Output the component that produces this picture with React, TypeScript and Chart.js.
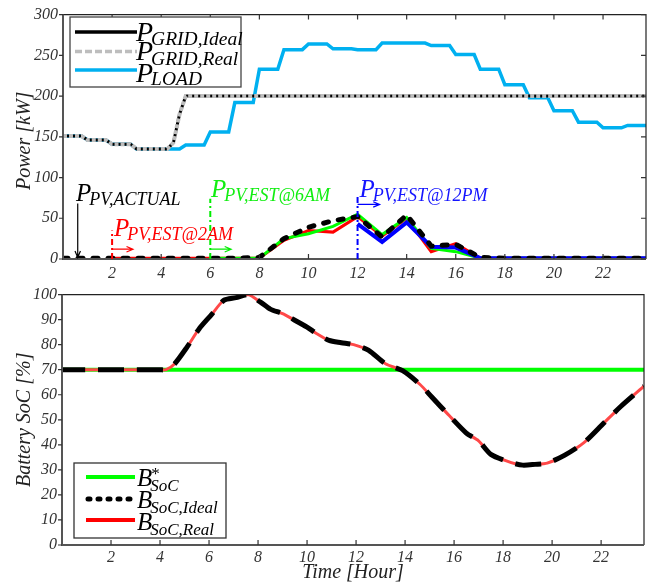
import React, { useEffect, useRef } from "react";
import { Chart, registerables } from "chart.js";

Chart.register(...registerables);

const SERIF = '"Liberation Serif", "Times New Roman", serif';

// ---------- Power chart data ----------
const hours = [0, 1, 2, 3, 4, 5, 6, 7, 8, 9, 10, 11, 12, 13, 14, 15, 16, 17, 18, 19, 20, 21, 22, 23];
const loadHourly = [151, 146, 141, 135, 135, 140, 156, 192, 233, 257, 264, 258, 257, 265, 265, 262, 251, 233, 214, 198, 182, 168, 161, 164];

const gridTimes = [0, 0.75, 1, 1.75, 2, 2.75, 3, 4.25, 4.5, 4.75, 5, 23.75];
const gridValues = [151, 151, 146, 146, 141, 141, 135, 135, 143, 178, 200, 200];

const pvTimes = [0, 1, 2, 3, 4, 5, 6, 7, 8, 9, 10, 11, 12, 13, 14, 15, 16, 17, 18, 19, 20, 21, 22, 23, 23.75];
const pvActual = [1, 1, 1, 1, 1, 1, 1, 1, 2, 25, 39, 47, 52, 27, 54, 16, 18, 2, 1, 1, 1, 1, 1, 1, 1];
const pvEst2am = [null, null, 1, 1, 1, 1, 1, 1, 1, 23, 35, 33, 52, 28, 50, 9, 19, 1, 1, 1, 1, 1, 1, 1, 1];
const pvEst6am = [null, null, null, null, null, null, 1, 1, 1, 25, 31, 40, 55, 30, 51, 13, 9, 1, 1, 1, 1, 1, 1, 1, 1];
const pvEst12pm = [null, null, null, null, null, null, null, null, null, null, null, null, 43, 21, 45, 15, 14, 1, 1, 1, 1, 1, 1, 1, 1];

// ---------- Battery chart data ----------
const socHours = [0, 1, 2, 3, 4, 4.25, 4.6, 5.1, 5.6, 6.1, 6.6, 7.1, 7.6, 8.1, 8.5, 9, 9.4, 10, 10.4, 10.9, 11.4, 11.9, 12.5, 13.2, 13.9, 14.6, 15.1, 15.8, 16.5, 17, 17.5, 18.3, 18.8, 19.3, 19.8, 20.5, 21.3, 22.1, 22.8, 23.75];
const socValues = [70, 70, 70, 70, 70, 70, 72.4, 79, 86.4, 92, 97.7, 98.8, 100, 97, 94.2, 92.4, 90.3, 87, 84.4, 81.7, 80.8, 80, 77.8, 72.4, 69.6, 64.2, 59, 51.7, 44.7, 41.6, 36.2, 33, 31.9, 32.2, 32.7, 35.8, 40.9, 48.6, 55.3, 63.4];
const socTargetHours = [0, 23.75];
const socTargetValues = [70, 70];

const xTicks = [2, 4, 6, 8, 10, 12, 14, 16, 18, 20, 22];
const powerTicks = [0, 50, 100, 150, 200, 250, 300];
const socTicks = [0, 10, 20, 30, 40, 50, 60, 70, 80, 90, 100];

const pairs = (xs: number[], ys: (number | null)[]) => xs.map((x, i) => ({ x, y: ys[i] }));
const stepPairs = (hs: number[], vs: number[]) => {
  const out: { x: number; y: number }[] = [];
  hs.forEach((h, i) => {
    out.push({ x: h, y: vs[i] });
    out.push({ x: h + 0.75, y: vs[i] });
  });
  return out;
};

const tickFont = { family: SERIF, style: "italic" as const, size: 16 };

function drawSub(
  ctx: CanvasRenderingContext2D,
  x: number,
  y: number,
  main: string,
  sub: string,
  color: string,
  mainSize: number,
  subSize: number,
  drop: number,
  sup?: string
) {
  ctx.fillStyle = color;
  ctx.textAlign = "left";
  ctx.textBaseline = "alphabetic";
  ctx.font = `italic ${mainSize}px ${SERIF}`;
  ctx.fillText(main, x, y);
  const w = ctx.measureText(main).width;
  ctx.font = `italic ${subSize}px ${SERIF}`;
  ctx.fillText(sub, x + w - 2, y + drop);
  if (sup) {
    ctx.font = `${subSize}px ${SERIF}`;
    ctx.fillText(sup, x + w - 1, y - mainSize * 0.28);
  }
}

function arrow(ctx: CanvasRenderingContext2D, x1: number, y1: number, x2: number, y2: number, color: string) {
  const ang = Math.atan2(y2 - y1, x2 - x1);
  const L = 7;
  ctx.strokeStyle = color;
  ctx.lineWidth = 1.2;
  ctx.beginPath();
  ctx.moveTo(x1, y1);
  ctx.lineTo(x2, y2);
  ctx.moveTo(x2 - L * Math.cos(ang - 0.4), y2 - L * Math.sin(ang - 0.4));
  ctx.lineTo(x2, y2);
  ctx.lineTo(x2 - L * Math.cos(ang + 0.4), y2 - L * Math.sin(ang + 0.4));
  ctx.stroke();
}

function drawFrame(chart: any, yValues: number[], topTicks: boolean, rightTicks: boolean) {
  const { ctx, chartArea: a, scales } = chart;
  ctx.save();
  ctx.lineCap = "butt";
  ctx.setLineDash([]);
  ctx.strokeStyle = "#222";
  ctx.lineWidth = 1.2;
  ctx.beginPath();
  ctx.moveTo(a.left, a.top);
  ctx.lineTo(a.right, a.top);
  ctx.lineTo(a.right, a.bottom);
  ctx.stroke();
  ctx.strokeStyle = "#555";
  ctx.lineWidth = 2;
  ctx.beginPath();
  ctx.moveTo(a.left, a.top);
  ctx.lineTo(a.left, a.bottom);
  ctx.lineTo(a.right, a.bottom);
  ctx.stroke();
  ctx.lineWidth = 1.2;
  ctx.strokeStyle = "#333";
  ctx.beginPath();
  xTicks.forEach((v) => {
    const px = scales.x.getPixelForValue(v);
    ctx.moveTo(px, a.bottom);
    ctx.lineTo(px, a.bottom - 5);
    if (topTicks) {
      ctx.moveTo(px, a.top);
      ctx.lineTo(px, a.top + 5);
    }
  });
  yValues.forEach((v) => {
    const py = scales.y.getPixelForValue(v);
    ctx.moveTo(a.left - 4, py);
    ctx.lineTo(a.left, py);
    if (rightTicks) {
      ctx.moveTo(a.right, py);
      ctx.lineTo(a.right - 5, py);
    }
  });
  ctx.stroke();
  ctx.restore();
}

const powerOverlay = {
  id: "powerOverlay",
  afterDraw(chart: any) {
    const { ctx, scales } = chart;
    const X = (v: number) => scales.x.getPixelForValue(v);
    const Y = (v: number) => scales.y.getPixelForValue(v);
    drawFrame(chart, powerTicks, true, true);
    ctx.save();

    // estimate start markers
    const markers = [
      { h: 2, top: 35, color: "#FF0000", arrowY: 12, arrowEnd: 2.85 },
      { h: 6, top: 74, color: "#00EE00", arrowY: 12, arrowEnd: 6.85 },
      { h: 12, top: 79, color: "#0000FF", arrowY: 67, arrowEnd: 12.9 },
    ];
    markers.forEach((m) => {
      ctx.strokeStyle = m.color;
      ctx.lineWidth = 2;
      ctx.setLineDash([6, 3, 2, 3]);
      ctx.beginPath();
      ctx.moveTo(X(m.h), Y(0));
      ctx.lineTo(X(m.h), Y(m.top));
      ctx.stroke();
      ctx.setLineDash([]);
      arrow(ctx, X(m.h), Y(m.arrowY), X(m.arrowEnd), Y(m.arrowY), m.color);
    });
    arrow(ctx, X(0.6), Y(68), X(0.6), Y(2), "#000");

    drawSub(ctx, X(0.53), Y(71.5), "P", "PV,ACTUAL", "#000", 25, 18, 4);
    drawSub(ctx, X(2.08), Y(28.5), "P", "PV,EST@2AM", "#FF0000", 25, 18, 4);
    drawSub(ctx, X(6.03), Y(76), "P", "PV,EST@6AM", "#11EE11", 25, 18, 4);
    drawSub(ctx, X(12.08), Y(76), "P", "PV,EST@12PM", "#1515FF", 25, 18, 4);

    // legend
    ctx.fillStyle = "#fff";
    ctx.fillRect(70, 17, 171, 70);
    ctx.strokeStyle = "#444";
    ctx.lineWidth = 1.3;
    ctx.strokeRect(70, 17, 171, 70);
    ctx.lineWidth = 3.5;
    ctx.strokeStyle = "#000";
    ctx.beginPath();
    ctx.moveTo(75, 32);
    ctx.lineTo(137, 32);
    ctx.stroke();
    ctx.strokeStyle = "#BDBDBD";
    ctx.setLineDash([7, 3]);
    ctx.beginPath();
    ctx.moveTo(75, 51.5);
    ctx.lineTo(137, 51.5);
    ctx.stroke();
    ctx.setLineDash([]);
    ctx.strokeStyle = "#00B0F0";
    ctx.beginPath();
    ctx.moveTo(75, 70);
    ctx.lineTo(137, 70);
    ctx.stroke();
    drawSub(ctx, 136, 40.5, "P", "GRID,Ideal", "#000", 28, 19.5, 4.5);
    drawSub(ctx, 136, 60, "P", "GRID,Real", "#000", 28, 19.5, 4.5);
    drawSub(ctx, 136, 81.5, "P", "LOAD", "#000", 28, 19.5, 3.5);

    // y-axis title
    ctx.translate(25, (chart.chartArea.top + chart.chartArea.bottom) / 2 + 4);
    ctx.rotate(-Math.PI / 2);
    ctx.font = `italic 20px ${SERIF}`;
    ctx.fillStyle = "#222";
    ctx.textAlign = "center";
    ctx.textBaseline = "middle";
    ctx.fillText("Power [kW]", 0, 0);
    ctx.restore();
  },
};

const socOverlay = {
  id: "socOverlay",
  afterDraw(chart: any) {
    const { ctx, chartArea: a } = chart;
    drawFrame(chart, socTicks, false, false);
    ctx.save();
    // legend
    ctx.fillStyle = "#fff";
    ctx.fillRect(74, 463 - 280, 152, 75);
    ctx.strokeStyle = "#333";
    ctx.lineWidth = 1.3;
    ctx.strokeRect(74, 463 - 280, 152, 75);
    ctx.lineWidth = 4;
    ctx.strokeStyle = "#00FF00";
    ctx.beginPath();
    ctx.moveTo(86, 477 - 280);
    ctx.lineTo(135, 477 - 280);
    ctx.stroke();
    ctx.strokeStyle = "#000";
    ctx.lineWidth = 5;
    ctx.lineCap = "round";
    ctx.setLineDash([2, 8]);
    ctx.beginPath();
    ctx.moveTo(88, 499 - 280);
    ctx.lineTo(135, 499 - 280);
    ctx.stroke();
    ctx.setLineDash([]);
    ctx.lineCap = "butt";
    ctx.lineWidth = 4;
    ctx.strokeStyle = "#FF0000";
    ctx.beginPath();
    ctx.moveTo(86, 520 - 280);
    ctx.lineTo(135, 520 - 280);
    ctx.stroke();
    drawSub(ctx, 137, 486 - 280, "B", "SoC", "#000", 25, 17, 4.5, "*");
    drawSub(ctx, 137, 508 - 280, "B", "SoC,Ideal", "#000", 25, 17, 4.5);
    drawSub(ctx, 137, 530 - 280, "B", "SoC,Real", "#000", 25, 17, 4.5);

    ctx.fillStyle = "#222";
    ctx.font = `italic 20px ${SERIF}`;
    ctx.textAlign = "center";
    ctx.textBaseline = "alphabetic";
    ctx.fillText("Time [Hour]", (a.left + a.right) / 2, 578 - 280);
    ctx.translate(25, (a.top + a.bottom) / 2);
    ctx.rotate(-Math.PI / 2);
    ctx.textBaseline = "middle";
    ctx.fillText("Battery SoC [%]", 0, 0);
    ctx.restore();
  },
};

function xScale(height: number, pad: number) {
  return {
    type: "linear" as const,
    min: 0,
    max: 23.75,
    grid: { display: false, drawTicks: false },
    border: { display: false },
    afterFit: (s: any) => {
      s.height = height;
    },
    afterBuildTicks: (s: any) => {
      s.ticks = xTicks.map((v) => ({ value: v }));
    },
    ticks: { font: tickFont, color: "#333", padding: pad, maxRotation: 0, autoSkip: false },
  };
}

function yScale(max: number, values: number[], width: number) {
  return {
    type: "linear" as const,
    min: 0,
    max,
    grid: { display: false, drawTicks: false },
    border: { display: false },
    afterFit: (s: any) => {
      s.width = width;
    },
    afterBuildTicks: (s: any) => {
      s.ticks = values.map((v) => ({ value: v }));
    },
    ticks: { font: tickFont, color: "#333", padding: 5 },
  };
}

function topConfig(): any {
  return {
    type: "line",
    data: {
      datasets: [
        { label: "PPV,ACTUAL", data: pairs(pvTimes, pvActual), borderColor: "#000", borderWidth: 5, borderDash: [5, 10], borderCapStyle: "round", order: 1 },
        { label: "PPV,EST@12PM", data: pairs(pvTimes, pvEst12pm), borderColor: "#0000FF", borderWidth: 4, order: 2 },
        { label: "PPV,EST@6AM", data: pairs(pvTimes, pvEst6am), borderColor: "#00FF00", borderWidth: 3, order: 3 },
        { label: "PPV,EST@2AM", data: pairs(pvTimes, pvEst2am), borderColor: "#FF0000", borderWidth: 3, order: 4 },
        { label: "PGRID,Real", data: pairs(gridTimes, gridValues), borderColor: "#BDBDBD", borderWidth: 4, borderDash: [4, 2], order: 5 },
        { label: "PGRID,Ideal", data: pairs(gridTimes, gridValues), borderColor: "#000", borderWidth: 3, order: 6 },
        { label: "PLOAD", data: stepPairs(hours, loadHourly), borderColor: "#00B0F0", borderWidth: 3.5, order: 7 },
      ],
    },
    options: {
      animation: false,
      responsive: true,
      maintainAspectRatio: false,
      elements: { point: { radius: 0 }, line: { tension: 0, fill: false } },
      layout: { padding: { left: 0, right: 8, top: 7, bottom: 0 } },
      plugins: { legend: { display: false }, tooltip: { enabled: false } },
      scales: { x: xScale(21, 5), y: yScale(300, powerTicks, 63) },
    },
    plugins: [powerOverlay],
  };
}

function bottomConfig(): any {
  return {
    type: "line",
    data: {
      datasets: [
        { label: "BSoC,Ideal", data: pairs(socHours, socValues), borderColor: "#000", borderWidth: 5, borderDash: [26, 13], borderDashOffset: 3, order: 1 },
        { label: "BSoC,Real", data: pairs(socHours, socValues), borderColor: "#FF4848", borderWidth: 3, order: 2 },
        { label: "B*SoC", data: pairs(socTargetHours, socTargetValues), borderColor: "#00FF00", borderWidth: 4, order: 3 },
      ],
    },
    options: {
      animation: false,
      responsive: true,
      maintainAspectRatio: false,
      elements: { point: { radius: 0 }, line: { tension: 0.25, fill: false } },
      layout: { padding: { left: 0, right: 10, top: 8, bottom: 0 } },
      plugins: { legend: { display: false }, tooltip: { enabled: false } },
      scales: { x: xScale(38, 3), y: yScale(100, socTicks, 62) },
    },
    plugins: [socOverlay],
  };
}

export default function App() {
  const topRef = useRef<HTMLCanvasElement>(null);
  const botRef = useRef<HTMLCanvasElement>(null);
  useEffect(() => {
    const top = new Chart(topRef.current as HTMLCanvasElement, topConfig());
    const bot = new Chart(botRef.current as HTMLCanvasElement, bottomConfig());
    return () => {
      top.destroy();
      bot.destroy();
    };
  }, []);
  return (
    <div style={{ position: "fixed", left: 0, top: 0, width: 654, height: 583, background: "#fff" }}>
      <div style={{ position: "absolute", left: 0, top: 0, width: 654, height: 280 }}>
        <canvas ref={topRef} />
      </div>
      <div style={{ position: "absolute", left: 0, top: 280, width: 654, height: 303 }}>
        <canvas ref={botRef} />
      </div>
    </div>
  );
}
